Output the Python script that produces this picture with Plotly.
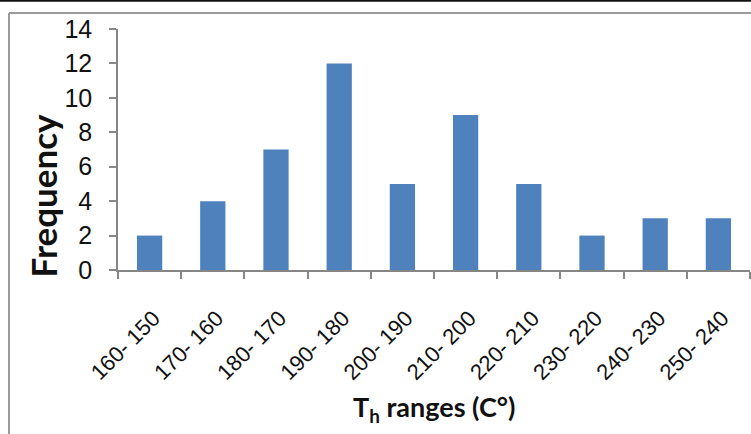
import plotly.graph_objects as go

# Homogenisation temperature classes and how many inclusions fall in each
ranges = ["160- 150", "170- 160", "180- 170", "190- 180", "200- 190",
          "210- 200", "220- 210", "230- 220", "240- 230", "250- 240"]
frequency = [2, 4, 7, 12, 5, 9, 5, 2, 3, 3]

y_ticks = [0, 2, 4, 6, 8, 10, 12, 14]

BAR = "#4F81BD"
AXIS = "#868686"
TICK_FONT = "Liberation Sans Narrow, Arial Narrow, Liberation Sans, sans-serif"
XTICK_FONT = "Liberation Sans, Arial, sans-serif"
TITLE_FONT = "Lato, Open Sans, sans-serif"

fig = go.Figure(
    go.Bar(x=ranges, y=frequency, marker=dict(color=BAR, line=dict(width=0)))
)

fig.update_layout(
    width=751,
    height=434,
    margin=dict(l=118, r=1, t=29, b=164),
    paper_bgcolor="white",
    plot_bgcolor="white",
    bargap=0.6,
    showlegend=False,
)

fig.update_xaxes(
    type="category",
    range=[-0.5, len(ranges) - 0.5],
    showline=True, linecolor=AXIS, linewidth=1.5,
    ticks="outside", tickson="boundaries", ticklen=7, tickcolor=AXIS, tickwidth=1.5,
    tickangle=-45,
    tickfont=dict(family=XTICK_FONT, size=22, color="#111"),
    ticklabelshift=4,
    ticklabelstandoff=25,
    showgrid=False, zeroline=False,
)

fig.update_yaxes(
    range=[0, 14],
    tickvals=y_ticks,
    showline=True, linecolor=AXIS, linewidth=1.5,
    ticks="outside", ticklen=7, tickcolor=AXIS, tickwidth=1.5,
    tickfont=dict(family=TICK_FONT, size=25, color="#111"),
    ticklabelstandoff=12,
    showgrid=False, zeroline=False,
)

# axis titles
fig.add_annotation(
    text="<b>Frequency</b>", textangle=-90,
    xref="paper", yref="paper", x=(42 - 118) / 632, y=(270.5 - 196) / 241,
    xanchor="center", yanchor="middle", showarrow=False,
    font=dict(family=TITLE_FONT, size=35, color="#111"),
)
fig.add_annotation(
    text="<b>T<sub>h</sub> ranges (C°)</b>",
    xref="paper", yref="paper", x=(434 - 118) / 632, y=(270.5 - 409) / 241,
    xanchor="center", yanchor="middle", showarrow=False,
    font=dict(family=TITLE_FONT, size=27, color="#111"),
)

# page rule across the top and the chart-area frame
fig.add_shape(type="line", xref="paper", yref="paper",
              x0=-1, x1=2, y0=(270.5 - 1) / 241, y1=(270.5 - 1) / 241,
              line=dict(color="#111", width=2.5))
fig.add_shape(type="line", xref="paper", yref="paper",
              x0=(9 - 118) / 632, x1=2, y0=(270.5 - 13.5) / 241, y1=(270.5 - 13.5) / 241,
              line=dict(color="#9a9a9a", width=2))
fig.add_shape(type="line", xref="paper", yref="paper",
              x0=(9 - 118) / 632, x1=(9 - 118) / 632, y0=(270.5 - 13.5) / 241, y1=-2,
              line=dict(color="#9a9a9a", width=2))

fig.write_html("out.html")
